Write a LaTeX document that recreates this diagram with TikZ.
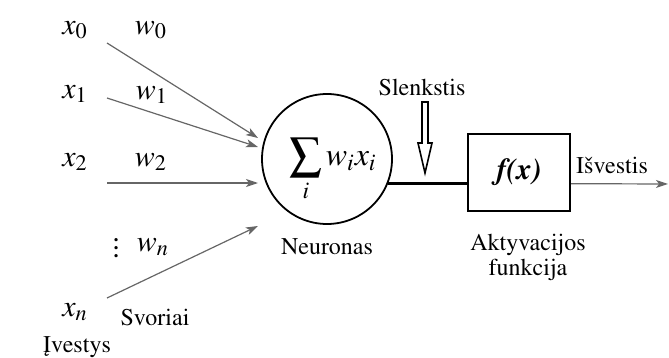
\documentclass[tikz,border=0pt]{standalone}
\usepackage[T1]{fontenc}
\usepackage{mathptmx}
\usetikzlibrary{arrows.meta}

\begin{document}
\begin{tikzpicture}[x=0.5pt, y=-0.5pt,
    txt/.style={font=\fontsize{12}{12.5}\selectfont, inner sep=0pt},
    var/.style={font=\fontsize{15}{17}\selectfont, inner sep=0pt},
    inarrow/.style={->, draw=black!60, line width=0.6pt},
  ]
\tikzset{>={Stealth[length=6pt, width=4pt, inset=1.5pt]}}
  \useasboundingbox (0,0) rectangle (669,358);
  % inputs and weights
  \node[var] (x0) at (75,30)  {$x_0$};
  \node[var] (x1) at (75,94)  {$x_1$};
  \node[var] (x2) at (75,162) {$x_2$};
  \node[var] (xn) at (75,312) {$x_n$};
  \node[var] (w0) at (151,30)  {$w_0$};
  \node[var] (w1) at (152,95)  {$w_1$};
  \node[var] (w2) at (151,162) {$w_2$};
  \node[var] (dots) at (116,242) {$\vdots$};
  \node[var] (wn) at (153,247) {$w_n$};
  \node[txt] (svoriai) at (155,317) {Svoriai};
  \node[txt] (ivestys) at (77,347)  {\k{I}vestys};

  \coordinate (s0) at (107,43);  \coordinate (e0) at (258,138);
  \coordinate (s1) at (107,98);  \coordinate (e1) at (258,147);
  \coordinate (s2) at (107,183); \coordinate (e2) at (258,183);
  \coordinate (sn) at (107,298); \coordinate (en) at (258,226);

  % neuron and activation
  \node[circle, draw, line width=0.9pt, minimum size=65pt, inner sep=0pt] (neuron) at (327,159) {};
  \node[font=\fontsize{16}{18}\selectfont, inner sep=0pt] (sum) at (333,170) {$\displaystyle\sum_i w_i x_i$};
  \node[txt] (lblneuron) at (327,247) {Neuronas};
  \node[draw, line width=1pt, minimum width=51pt, minimum height=38.5pt, inner sep=0pt,
        font=\fontsize{15}{17}\selectfont] (act) at (519,172.5) {\textbf{\textit{f(x)}}};
  \node[txt, align=center] (lblact) at (528,257) {Aktyvacijos\\funkcija};
  \node[txt] (slenkstis) at (422,87) {Slenkstis};
  \node[txt] (isvestis) at (612,165) {I\v{s}vestis};
  \coordinate (out) at (668,184);

  \draw[inarrow] (s0) -- (e0);
  \draw[inarrow] (s1) -- (e1);
  \draw[inarrow] (s2) -- (e2);
  \draw[inarrow] (sn) -- (en);
  \draw[line width=1.2pt] (neuron.-22) -- (neuron.-22 -| act.west);
  \draw[inarrow] (neuron.-22 -| act.east) -- (out);
  % hollow threshold arrow
  \draw[line width=0.8pt, fill=white] (422,102) -- (428,102) -- (428,143) -- (432,143)
    -- (425,173) -- (418,143) -- (422,143) -- cycle;
\end{tikzpicture}
\end{document}
